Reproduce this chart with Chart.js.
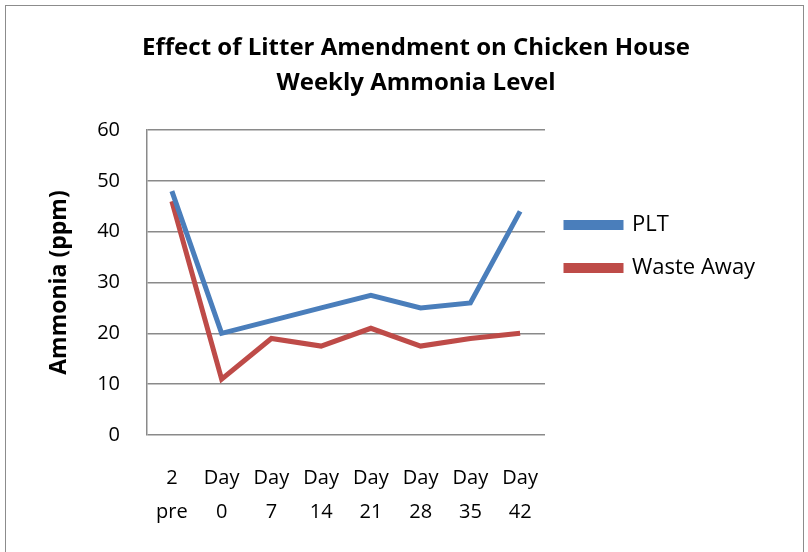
<!DOCTYPE html>
<html>
<head>
<meta charset="utf-8">
<script src="https://cdn.jsdelivr.net/npm/chart.js@4.4.0/dist/chart.umd.min.js"></script>
<style>
  body { margin: 0; background: #fff; }
  #wrap { position: relative; width: 808px; height: 552px; }
  #frame { position: absolute; left: 5px; top: 5px; width: 797px; height: 560px; border: 1px solid #8c8c8c; pointer-events: none; }
</style>
</head>
<body>
<div id="wrap">
  <canvas id="ammoniaChart" width="808" height="552"></canvas>
  <div id="frame"></div>
</div>
<script>
const categories = [["2", "pre"], ["Day", "0"], ["Day", "7"], ["Day", "14"], ["Day", "21"], ["Day", "28"], ["Day", "35"], ["Day", "42"]];
const pltValues = [48, 20, 22.5, 25, 27.5, 25, 26, 44];
const wasteAwayValues = [46, 11, 19, 17.5, 21, 17.5, 19, 20];
const yTicks = [0, 10, 20, 30, 40, 50, 60];

const FONT = "'Open Sans', 'Noto Sans', sans-serif";

// keep the legend column a fixed width so the plot ends where the original does
const legendWidthPlugin = {
  id: "legendWidth",
  beforeUpdate(chart) {
    const lg = chart.legend;
    if (lg && !lg._fixedWidth) {
      const origFit = lg.fit;
      lg.fit = function () {
        origFit.call(this);
        this.width = 243;
      };
      lg._fixedWidth = true;
    }
  },
};

function drawChart() {
  const ctx = document.getElementById("ammoniaChart").getContext("2d");

  const data = {
    labels: categories,
    datasets: [
      {
        label: "PLT",
        data: pltValues,
        borderColor: "#4a7ebb",
        backgroundColor: "#4a7ebb",
        borderWidth: 5,
        pointRadius: 0,
        tension: 0,
      },
      {
        label: "Waste Away",
        data: wasteAwayValues,
        borderColor: "#be4b48",
        backgroundColor: "#be4b48",
        borderWidth: 5,
        pointRadius: 0,
        tension: 0,
      },
    ],
  };

  const options = {
    responsive: false,
    animation: false,
    layout: { padding: { left: 44, right: 20, top: 12, bottom: 10 } },
    plugins: {
      title: {
        display: true,
        text: ["Effect of Litter Amendment on Chicken House", "Weekly Ammonia Level"],
        color: "#000",
        font: { family: FONT, size: 24, weight: "bold", lineHeight: 1.46 },
        padding: { top: 19, bottom: 29 },
      },
      legend: {
        position: "right",
        align: "start",
        title: { display: true, text: " ", padding: { top: 157, bottom: 0 }, font: { size: 20 } },
        labels: {
          color: "#000",
          font: { family: FONT, size: 22 },
          boxWidth: 55,
          boxHeight: 5,
          padding: 21,
        },
      },
      tooltip: { enabled: false },
    },
    scales: {
      x: {
        offset: true,
        afterFit: (axis) => { axis.height = 107; },
        grid: { display: false },
        border: { display: false },
        ticks: {
          color: "#000",
          font: { family: FONT, size: 20, lineHeight: 1.7 },
          padding: 18,
          maxRotation: 0,
          autoSkip: false,
        },
      },
      y: {
        min: 0,
        max: 60,
        afterFit: (axis) => { axis.width = 103; },
        afterBuildTicks: (axis) => {
          axis.ticks = yTicks.map((v) => ({ value: v }));
        },
        grid: { color: "#8a8a8a", lineWidth: 1.5, drawTicks: false },
        border: { color: "#8a8a8a", width: 1.5 },
        ticks: {
          color: "#000",
          font: { family: FONT, size: 20 },
          padding: 27,
        },
        title: {
          display: true,
          text: "Ammonia (ppm)",
          color: "#000",
          font: { family: FONT, size: 23, weight: "bold" },
          padding: { top: 2, bottom: 4 },
        },
      },
    },
  };

  new Chart(ctx, { type: "line", data: data, options: options, plugins: [legendWidthPlugin] });
}

document.addEventListener("DOMContentLoaded", drawChart);
</script>
</body>
</html>
